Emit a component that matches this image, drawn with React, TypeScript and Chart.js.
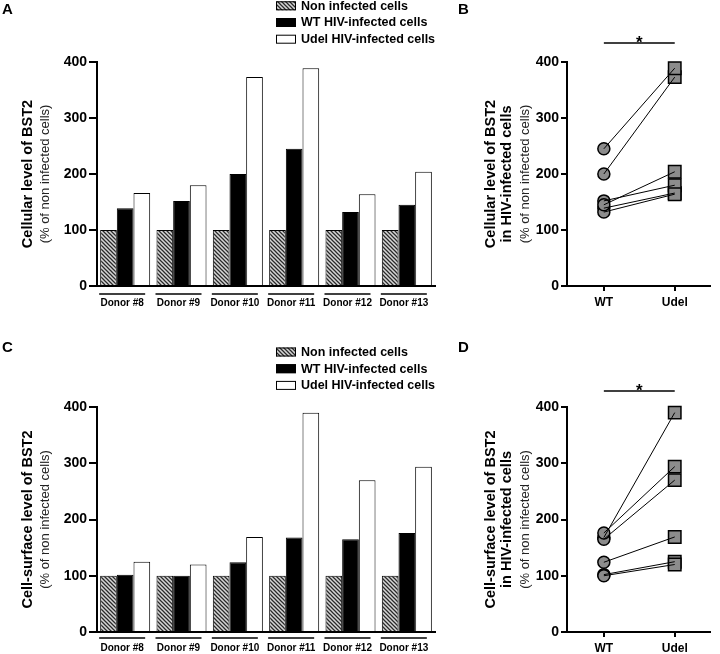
import React, { useEffect, useRef } from 'react';
import { Chart, registerables } from 'chart.js';

Chart.register(...registerables);

// ---------- data ----------
const donors = ['Donor #8', 'Donor #9', 'Donor #10', 'Donor #11', 'Donor #12', 'Donor #13'];
const seriesLabels = ['Non infected cells', 'WT HIV-infected cells', 'Udel HIV-infected cells'];
const pairLabels = ['WT', 'Udel'];

const cellularNonInfected = [100, 100, 100, 100, 100, 100];
const cellularWT = [139, 152, 200, 245, 132, 145];
const cellularUdel = [166, 180, 373, 389, 164, 204];

const surfaceNonInfected = [100, 100, 100, 100, 100, 100];
const surfaceWT = [102, 100, 124, 168, 165, 176];
const surfaceUdel = [125, 120, 169, 390, 270, 294];

const yMin = 0;
const yMax = 400;
const yStep = 100;

const FONT = '"Liberation Sans", Arial, Helvetica, sans-serif';

function hatchPattern(): CanvasPattern | string {
  const c = document.createElement('canvas');
  c.width = 4;
  c.height = 4;
  const g = c.getContext('2d');
  if (!g) return '#999';
  g.fillStyle = '#d6d6d6';
  g.fillRect(0, 0, 4, 4);
  g.strokeStyle = '#2a2a2a';
  g.lineWidth = 1.25;
  g.beginPath();
  g.moveTo(0, 0); g.lineTo(4, 4);
  g.moveTo(-1, 3); g.lineTo(1, 5);
  g.moveTo(3, -1); g.lineTo(5, 1);
  g.stroke();
  return g.createPattern(c, 'repeat') || '#999';
}

type TitleLine = { text: string; x: number; font: string; color: string };

function drawTitles(ctx: CanvasRenderingContext2D, lines: TitleLine[], cy: number) {
  lines.forEach((ln) => {
    ctx.save();
    ctx.translate(ln.x, cy);
    ctx.rotate(-Math.PI / 2);
    ctx.textAlign = 'center';
    ctx.textBaseline = 'middle';
    ctx.font = ln.font;
    ctx.fillStyle = ln.color;
    ctx.fillText(ln.text, 0, 0);
    ctx.restore();
  });
}

const barDeco = {
  id: 'barDeco',
  afterDraw(chart: any, _a: any, o: any) {
    const ctx: CanvasRenderingContext2D = chart.ctx;
    const { top, bottom } = chart.chartArea;
    const xs = chart.scales.x;
    ctx.save();
    ctx.strokeStyle = '#000';
    ctx.lineWidth = 1.5;
    (chart.data.labels as string[]).forEach((_l, i) => {
      const cx = xs.getPixelForValue(i) - 3;
      ctx.beginPath();
      ctx.moveTo(cx - 23, bottom + o.underlineGap);
      ctx.lineTo(cx + 23, bottom + o.underlineGap);
      ctx.stroke();
    });
    ctx.fillStyle = '#000';
    ctx.font = `bold 15px ${FONT}`;
    ctx.textAlign = 'left';
    ctx.textBaseline = 'alphabetic';
    ctx.fillText(o.letter, o.letterX, o.letterY);
    drawTitles(ctx, o.titleLines, (top + bottom) / 2);
    chart.data.datasets.forEach((ds: any, i: number) => {
      const y = o.legendY + i * 16.7;
      ctx.fillStyle = ds.backgroundColor;
      ctx.fillRect(276, y - 4.5, 20, 9);
      ctx.strokeStyle = '#000';
      ctx.lineWidth = 1;
      ctx.strokeRect(276.5, y - 4, 19, 8);
      ctx.fillStyle = '#000';
      ctx.font = `bold 12.5px ${FONT}`;
      ctx.textAlign = 'left';
      ctx.textBaseline = 'middle';
      ctx.fillText(ds.label, 301, y + 0.5);
    });
    ctx.restore();
  },
};

const pairDeco = {
  id: 'pairDeco',
  afterDraw(chart: any, _a: any, o: any) {
    const ctx: CanvasRenderingContext2D = chart.ctx;
    const { top, bottom } = chart.chartArea;
    const xs = chart.scales.x;
    const x0 = xs.getPixelForValue(0);
    const x1 = xs.getPixelForValue(1);
    ctx.save();
    ctx.strokeStyle = '#000';
    ctx.lineWidth = 1.5;
    ctx.beginPath();
    ctx.moveTo(x0, o.sigY);
    ctx.lineTo(x1, o.sigY);
    ctx.stroke();
    ctx.fillStyle = '#000';
    ctx.font = `bold 17px ${FONT}`;
    ctx.textAlign = 'center';
    ctx.textBaseline = 'alphabetic';
    ctx.fillText('*', (x0 + x1) / 2, o.sigY + 5);
    ctx.font = `bold 15px ${FONT}`;
    ctx.textAlign = 'left';
    ctx.fillText(o.letter, o.letterX, o.letterY);
    drawTitles(ctx, o.titleLines, (top + bottom) / 2);
    ctx.restore();
  },
};

const tickFont = { family: FONT, size: 14, weight: 'bold' as const };

type BarProps = {
  top: number;
  height: number;
  plotTop: number;
  plotBottom: number;
  letter: string;
  letterY: number;
  legendY: number;
  underlineGap: number;
  labelPad: number;
  title: string;
  nonInf: number[];
  wt: number[];
  udel: number[];
};

function BarPanel(p: BarProps) {
  const ref = useRef<HTMLCanvasElement>(null);
  const W = 460;
  useEffect(() => {
    if (!ref.current) return;
    const chart = new Chart(ref.current, {
      type: 'bar',
      data: {
        labels: donors,
        datasets: [
          { label: seriesLabels[0], data: p.nonInf, backgroundColor: hatchPattern() as any, borderColor: '#000', borderWidth: 1 },
          { label: seriesLabels[1], data: p.wt, backgroundColor: '#000', borderColor: '#000', borderWidth: 1 },
          { label: seriesLabels[2], data: p.udel, backgroundColor: '#fff', borderColor: '#000', borderWidth: 1 },
        ],
      },
      options: {
        responsive: false,
        animation: false,
        events: [],
        datasets: { bar: { categoryPercentage: 0.888, barPercentage: 1 } },
        layout: { padding: { left: 0, top: p.plotTop, right: W - 435, bottom: 0 } },
        plugins: {
          legend: { display: false },
          tooltip: { enabled: false },
          barDeco: {
            letter: p.letter,
            letterX: 2,
            letterY: p.letterY,
            legendY: p.legendY,
            underlineGap: p.underlineGap,
            titleLines: [
              { text: p.title, x: 28, font: `bold 14.5px ${FONT}`, color: '#000' },
              { text: '(% of non infected cells)', x: 45, font: `13px ${FONT}`, color: '#222' },
            ],
          },
        } as any,
        scales: {
          x: {
            type: 'category',
            offset: true,
            grid: { display: true, drawOnChartArea: false, drawTicks: false, color: '#000' },
            border: { display: true, color: '#000', width: 2 },
            ticks: { font: { family: FONT, size: 10, weight: 'bold' }, color: '#000', padding: p.labelPad, labelOffset: -3, maxRotation: 0, autoSkip: false },
            afterFit: (s: any) => { s.height = p.height - p.plotBottom; },
          },
          y: {
            min: yMin,
            max: yMax,
            ticks: { stepSize: yStep, font: tickFont, color: '#000', padding: 2 },
            grid: { drawOnChartArea: false, drawTicks: true, tickLength: 8, color: '#000', lineWidth: 2 },
            border: { display: true, color: '#000', width: 2 },
            afterFit: (s: any) => { s.width = 97; },
          },
        },
      },
      plugins: [barDeco],
    });
    return () => chart.destroy();
  }, []);
  return (
    <canvas
      ref={ref}
      width={W}
      height={p.height}
      style={{ position: 'absolute', left: 0, top: p.top, width: W, height: p.height }}
    />
  );
}

type PairProps = {
  top: number;
  height: number;
  plotTop: number;
  plotBottom: number;
  letter: string;
  letterY: number;
  sigY: number;
  title: string;
  wt: number[];
  udel: number[];
};

function PairPanel(p: PairProps) {
  const ref = useRef<HTMLCanvasElement>(null);
  const W = 360;
  const axisLeft = 207;
  const plotRight = 358;
  const xWT = 246;
  const xStep = 75;
  useEffect(() => {
    if (!ref.current) return;
    const chart = new Chart(ref.current, {
      type: 'scatter',
      data: {
        datasets: [
          ...p.wt.map((w, i) => ({
            label: donors[i],
            data: [{ x: 0, y: w }, { x: 1, y: p.udel[i] }],
            showLine: true,
            borderColor: '#000',
            borderWidth: 1,
            pointRadius: 0,
            order: 0,
            clip: false as any,
          })),
          {
            label: pairLabels[0],
            data: p.wt.map((v) => ({ x: 0, y: v })),
            pointStyle: 'circle',
            pointRadius: 6,
            backgroundColor: '#8c8c8c',
            borderColor: '#000',
            borderWidth: 1.5,
            order: 1,
            clip: false as any,
          },
          {
            label: pairLabels[1],
            data: p.udel.map((v) => ({ x: 1, y: v })),
            pointStyle: 'rect',
            pointRadius: 8.8,
            backgroundColor: '#8c8c8c',
            borderColor: '#000',
            borderWidth: 1.5,
            order: 1,
            clip: false as any,
          },
        ] as any,
      },
      options: {
        responsive: false,
        animation: false,
        events: [],
        layout: { padding: { left: 0, top: p.plotTop, right: W - plotRight, bottom: 0 } },
        plugins: {
          legend: { display: false },
          tooltip: { enabled: false },
          pairDeco: {
            letter: p.letter,
            letterX: 98,
            letterY: p.letterY,
            sigY: p.sigY,
            titleLines: [
              { text: p.title, x: 131, font: `bold 14.5px ${FONT}`, color: '#000' },
              { text: 'in HIV-infected cells', x: 147, font: `bold 14.5px ${FONT}`, color: '#000' },
              { text: '(% of non infected cells)', x: 165, font: `13px ${FONT}`, color: '#222' },
            ],
          },
        } as any,
        scales: {
          x: {
            type: 'linear',
            min: (axisLeft - xWT) / xStep,
            max: (plotRight - xWT) / xStep,
            afterBuildTicks: (s: any) => { s.ticks = [{ value: 0 }, { value: 1 }]; },
            grid: { display: true, drawOnChartArea: false, drawTicks: true, tickLength: 5, color: '#000', lineWidth: 2 },
            border: { display: true, color: '#000', width: 2 },
            ticks: {
              font: { family: FONT, size: 12, weight: 'bold' },
              color: '#000',
              padding: 4,
              callback: (v: any) => pairLabels[Number(v)] ?? '',
            },
            afterFit: (s: any) => { s.height = p.height - p.plotBottom; },
          },
          y: {
            min: yMin,
            max: yMax,
            ticks: { stepSize: yStep, font: tickFont, color: '#000', padding: 2 },
            grid: { drawOnChartArea: false, drawTicks: true, tickLength: 6, color: '#000', lineWidth: 2 },
            border: { display: true, color: '#000', width: 2 },
            afterFit: (s: any) => { s.width = axisLeft; },
          },
        },
      },
      plugins: [pairDeco],
    });
    return () => chart.destroy();
  }, []);
  return (
    <canvas
      ref={ref}
      width={W}
      height={p.height}
      style={{ position: 'absolute', left: 360, top: p.top, width: W, height: p.height }}
    />
  );
}

export default function App() {
  return (
    <div style={{ position: 'fixed', left: 0, top: 0, width: 720, height: 654, background: '#fff', overflow: 'hidden' }}>
      <BarPanel
        top={0}
        height={320}
        plotTop={62}
        plotBottom={286}
        letter="A"
        letterY={14}
        legendY={5.8}
        underlineGap={8}
        labelPad={11}
        title="Cellular level of BST2"
        nonInf={cellularNonInfected}
        wt={cellularWT}
        udel={cellularUdel}
      />
      <PairPanel
        top={0}
        height={320}
        plotTop={62}
        plotBottom={286}
        letter="B"
        letterY={14}
        sigY={43}
        title="Cellular level of BST2"
        wt={cellularWT}
        udel={cellularUdel}
      />
      <BarPanel
        top={320}
        height={334}
        plotTop={87}
        plotBottom={312}
        letter="C"
        letterY={32}
        legendY={32}
        underlineGap={6}
        labelPad={10}
        title="Cell-surface level of BST2"
        nonInf={surfaceNonInfected}
        wt={surfaceWT}
        udel={surfaceUdel}
      />
      <PairPanel
        top={320}
        height={334}
        plotTop={87}
        plotBottom={312}
        letter="D"
        letterY={32}
        sigY={71}
        title="Cell-surface level of BST2"
        wt={surfaceWT}
        udel={surfaceUdel}
      />
    </div>
  );
}
